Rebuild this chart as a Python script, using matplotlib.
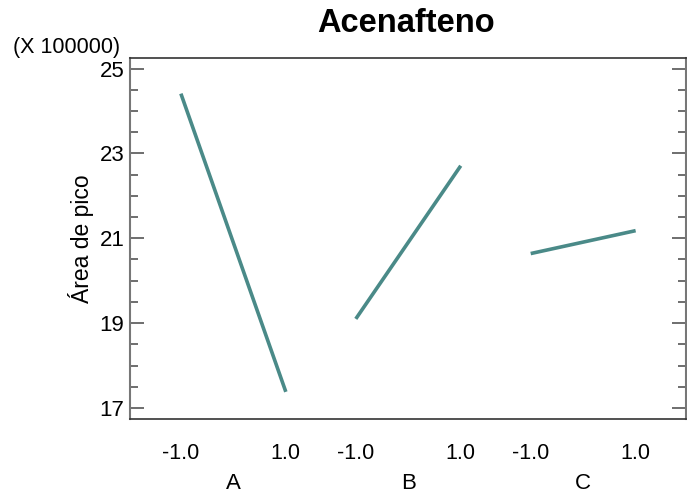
import matplotlib
matplotlib.use("Agg")
import matplotlib.pyplot as plt
from matplotlib.ticker import FixedLocator, MultipleLocator

plt.rcParams['font.family'] = ['Liberation Sans', 'DejaVu Sans']

# Main effects for peak area (units of 100000)
factors = ["A", "B", "C"]
levels = [-1.0, 1.0]
low_means = [24.41, 19.10, 20.64]
high_means = [17.38, 22.71, 21.18]
level_labels = ["-1.0", "1.0"]
y_ticks = [17, 19, 21, 23, 25]

title = "Acenafteno"
ylabel = "Área de pico"
scale_note = "(X 100000)"

line_color = "#4a8a88"
spacing = 10 / 3

fig = plt.figure(figsize=(6.87, 4.98), dpi=100)
ax = fig.add_axes([130 / 687, 1 - 419 / 498, 556 / 687, 361 / 498])

xticks, xticklabels = [], []
for i, name in enumerate(factors):
    center = i * spacing
    xs = [center + lv for lv in levels]
    ax.plot(xs, [low_means[i], high_means[i]], color=line_color, lw=2.6,
            solid_capstyle="butt")
    xticks += xs
    xticklabels += level_labels
    ax.text(center, -0.18, name, transform=ax.get_xaxis_transform(),
            ha="center", va="center", fontsize=16)

ax.set_xlim(-1.97, 2 * spacing + 1 + 0.96)
ax.set_ylim(16.74, 25.25)
ax.set_xticks(xticks)
ax.set_xticklabels(xticklabels, fontsize=15.5)
ax.tick_params(axis="x", length=0, pad=17)

ax.yaxis.set_major_locator(FixedLocator(y_ticks))
ax.yaxis.set_minor_locator(MultipleLocator(0.5))
ax.tick_params(axis="y", which="major", direction="in", length=10, width=1.2,
               left=True, right=True, labelsize=16, pad=4, color="#555555")
ax.tick_params(axis="y", which="minor", direction="in", length=6, width=1.2,
               left=True, right=True, color="#555555")

for side in ["left", "right"]:
    ax.spines[side].set_color("#777777")
    ax.spines[side].set_linewidth(1.5)
for side in ["top", "bottom"]:
    ax.spines[side].set_color("#333333")
    ax.spines[side].set_linewidth(1.2)

ax.set_ylabel(ylabel, fontsize=16.5, labelpad=4)
fig.text(406 / 687, 1 - 24 / 498, title, ha="center", va="center",
         fontsize=23.5, fontweight="bold")
fig.text(67 / 687, 1 - 47 / 498, scale_note, ha="center", va="center",
         fontsize=15.5)

fig.savefig("out.png", dpi=100)
